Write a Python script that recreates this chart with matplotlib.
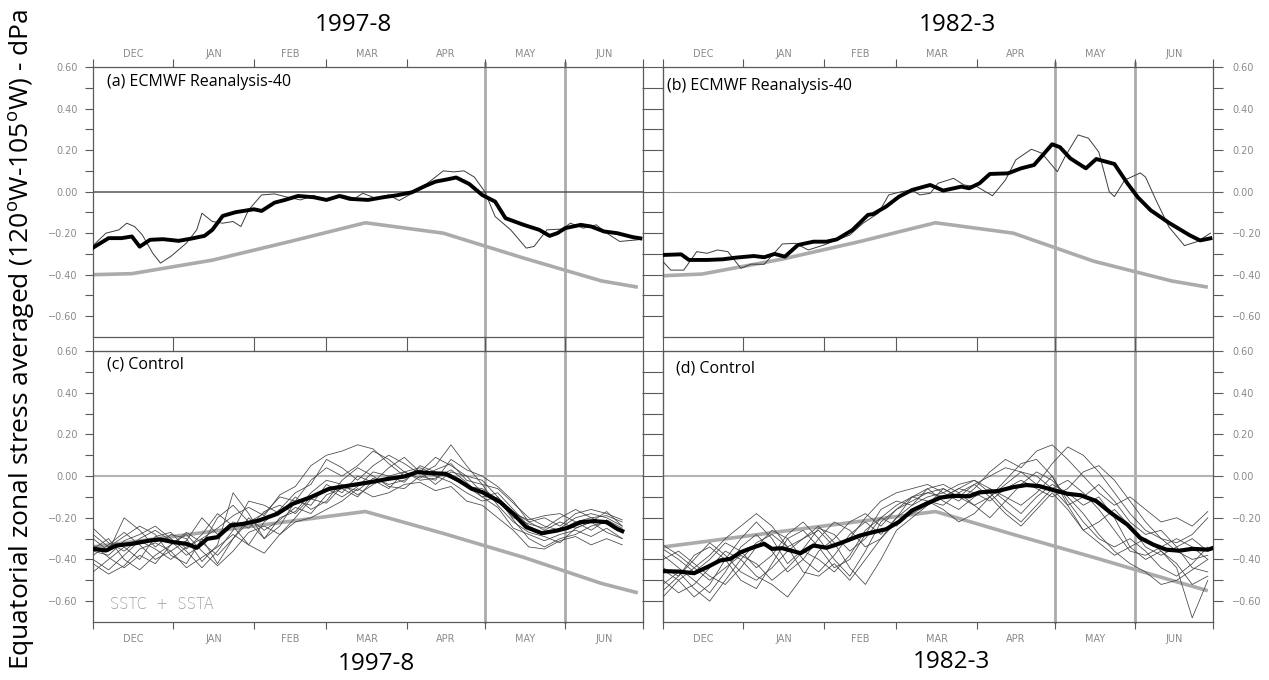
import matplotlib
matplotlib.use("Agg")
import matplotlib.pyplot as plt
import matplotlib.transforms as mtransforms
from matplotlib.lines import Line2D

# ---------------------------------------------------------------- data
# time axis: days counted from 1 December
month_names = ["DEC", "JAN", "FEB", "MAR", "APR", "MAY", "JUN"]
month_edges = [0, 31, 62, 90, 121, 151, 182, 212]
marker_days = [151, 182]          # 1 May and 1 June

y_major = [-0.6, -0.4, -0.2, 0.0, 0.2, 0.4, 0.6]
y_minor = [-0.5, -0.3, -0.1, 0.1, 0.3, 0.5]
y_labels = ["\u22120.60", "\u22120.40", "\u22120.20", "0.00", "0.20", "0.40", "0.60"]

# monthly climatological stress (mid-month nodes)
clim_days = [0, 15, 46, 76, 105, 135, 166, 196, 210]
clim_a = [-0.40, -0.395, -0.33, -0.24, -0.15, -0.20, -0.32, -0.43, -0.46]
clim_b = [-0.405, -0.397, -0.325, -0.24, -0.15, -0.20, -0.335, -0.43, -0.46]
clim_c = [-0.34, -0.316, -0.265, -0.217, -0.17, -0.275, -0.39, -0.515, -0.56]
clim_d = [-0.34, -0.316, -0.265, -0.217, -0.17, -0.28, -0.39, -0.50, -0.55]

# (a) ERA-40 1997-8
era_a_days = [0, 5, 10, 13, 16, 19, 23, 26, 30, 33, 36, 40, 42, 46, 50, 54, 57, 60, 65, 70,
              74, 80, 85, 90, 96, 101, 104, 109, 114, 118, 123, 128, 132, 135, 139, 143, 147,
              151, 155, 161, 167, 170, 175, 181, 184, 189, 194, 198, 203, 210]
era_a = [-0.26, -0.20, -0.184, -0.152, -0.168, -0.208, -0.296, -0.344, -0.312, -0.28,
         -0.248, -0.184, -0.104, -0.144, -0.152, -0.144, -0.168, -0.088, -0.016, -0.011,
         -0.024, -0.04, -0.019, -0.037, -0.016, -0.032, -0.008, -0.032, -0.016, -0.043,
         -0.008, 0.032, 0.07, 0.10, 0.095, 0.10, 0.07, 0.0, -0.12, -0.184,
         -0.272, -0.264, -0.184, -0.18, -0.152, -0.176, -0.16, -0.2, -0.24, -0.232]
era_a_smooth_days = [0, 6, 11, 15, 18, 22, 27, 33, 38, 43, 46, 50, 55, 62, 65, 70, 74, 79, 85,
                     90, 95, 99, 106, 112, 117, 123, 128, 132, 137, 140, 145, 150, 155, 159,
                     166, 172, 176, 179, 182, 188, 192, 197, 202, 208, 211]
era_a_smooth = [-0.27, -0.224, -0.224, -0.216, -0.265, -0.232, -0.229, -0.237, -0.226, -0.213,
                -0.184, -0.117, -0.099, -0.085, -0.093, -0.053, -0.04, -0.021, -0.027, -0.04,
                -0.021, -0.035, -0.04, -0.027, -0.018, -0.003, 0.027, 0.048, 0.060, 0.068,
                0.037, -0.016, -0.048, -0.128, -0.16, -0.184, -0.213, -0.2, -0.176, -0.16,
                -0.168, -0.192, -0.2, -0.219, -0.225]

# (b) ERA-40 1982-3
era_b_days = [0, 3, 8, 13, 17, 21, 25, 30, 34, 39, 46, 51, 56, 62, 67, 72, 77, 83, 87, 92,
              96, 99, 103, 106, 112, 116, 121, 127, 132, 136, 142, 146, 152, 155, 160, 164,
              168, 172, 174, 178, 184, 186, 190, 195, 201, 206, 211]
era_b = [-0.337, -0.378, -0.378, -0.289, -0.297, -0.281, -0.289, -0.369, -0.349, -0.35,
         -0.252, -0.249, -0.281, -0.257, -0.233, -0.209, -0.153, -0.104, -0.016, 0.0,
         0.008, -0.016, -0.008, 0.04, 0.064, 0.032, 0.024, -0.02, 0.056, 0.153,
         0.204, 0.185, 0.096, 0.169, 0.273, 0.257, 0.19, 0.0, -0.024, 0.056,
         0.09, 0.07, -0.04, -0.17, -0.26, -0.24, -0.20]
era_b_smooth_days = [0, 7, 10, 17, 23, 28, 35, 39, 43, 47, 52, 58, 63, 67, 73, 79, 81, 86, 91,
                     96, 103, 108, 115, 118, 122, 126, 133, 138, 143, 147, 150, 153, 157, 163,
                     167, 174, 179, 183, 188, 195, 203, 207, 211]
era_b_smooth = [-0.305, -0.302, -0.329, -0.329, -0.326, -0.318, -0.31, -0.316, -0.30, -0.313,
                -0.257, -0.241, -0.241, -0.23, -0.185, -0.112, -0.108, -0.072, -0.024, 0.008,
                0.032, 0.005, 0.024, 0.016, 0.04, 0.085, 0.088, 0.112, 0.128, 0.185,
                0.228, 0.214, 0.16, 0.112, 0.157, 0.133, 0.04, -0.027, -0.09, -0.15,
                -0.21, -0.235, -0.225]

# (c) control ensemble 1997-8 (members sampled every 6 days)
members_c_days = list(range(0, 205, 6))
members_c = [
    [-0.25, -0.32, -0.36, -0.30, -0.26, -0.31, -0.38, -0.33, -0.20, -0.14, -0.22, -0.18, -0.10, -0.12, -0.02, 0.04, 0.00, 0.05, 0.12, 0.08, 0.02, 0.04, 0.01, 0.00, -0.05, -0.10, -0.08, -0.16, -0.24, -0.28, -0.25, -0.20, -0.18, -0.20, -0.24],
    [-0.40, -0.45, -0.38, -0.31, -0.35, -0.40, -0.34, -0.30, -0.42, -0.30, -0.20, -0.26, -0.21, -0.15, -0.18, -0.09, -0.06, -0.10, -0.02, -0.06, 0.02, -0.01, 0.03, 0.06, -0.02, -0.04, -0.14, -0.22, -0.27, -0.29, -0.32, -0.25, -0.22, -0.27, -0.30],
    [-0.30, -0.36, -0.20, -0.26, -0.34, -0.28, -0.30, -0.41, -0.33, -0.08, -0.18, -0.30, -0.24, -0.12, -0.14, -0.04, -0.08, 0.00, -0.03, 0.04, 0.09, 0.02, -0.04, 0.02, 0.00, -0.08, -0.12, -0.20, -0.23, -0.25, -0.20, -0.16, -0.20, -0.23, -0.27],
    [-0.46, -0.40, -0.34, -0.40, -0.29, -0.27, -0.35, -0.28, -0.18, -0.24, -0.33, -0.22, -0.16, -0.08, -0.04, 0.08, 0.04, -0.02, 0.05, 0.10, 0.06, 0.01, 0.05, 0.15, 0.05, -0.04, -0.06, -0.13, -0.20, -0.24, -0.26, -0.22, -0.26, -0.21, -0.25],
    [-0.35, -0.30, -0.40, -0.45, -0.38, -0.33, -0.28, -0.36, -0.43, -0.36, -0.27, -0.24, -0.28, -0.20, -0.11, -0.13, -0.05, -0.07, -0.01, -0.04, -0.02, 0.03, 0.00, -0.03, -0.08, -0.12, -0.10, -0.21, -0.30, -0.34, -0.30, -0.28, -0.24, -0.22, -0.26],
    [-0.28, -0.34, -0.29, -0.24, -0.28, -0.38, -0.42, -0.30, -0.25, -0.19, -0.15, -0.19, -0.09, -0.05, 0.05, 0.10, 0.12, 0.15, 0.13, 0.06, 0.00, 0.02, 0.09, 0.05, 0.00, -0.02, -0.10, -0.18, -0.21, -0.19, -0.18, -0.22, -0.20, -0.19, -0.22],
    [-0.42, -0.47, -0.43, -0.35, -0.32, -0.36, -0.44, -0.39, -0.34, -0.28, -0.33, -0.37, -0.28, -0.22, -0.20, -0.16, -0.12, -0.06, -0.10, -0.08, -0.04, -0.03, -0.07, -0.05, -0.12, -0.14, -0.20, -0.26, -0.34, -0.35, -0.31, -0.29, -0.33, -0.30, -0.33],
    [-0.38, -0.33, -0.27, -0.33, -0.40, -0.36, -0.31, -0.20, -0.28, -0.22, -0.25, -0.17, -0.14, -0.18, -0.10, -0.06, -0.10, -0.05, 0.02, 0.00, -0.03, 0.05, 0.02, -0.01, -0.05, -0.06, -0.11, -0.17, -0.22, -0.20, -0.24, -0.18, -0.16, -0.18, -0.21],
    [-0.33, -0.39, -0.44, -0.38, -0.42, -0.33, -0.27, -0.32, -0.38, -0.30, -0.22, -0.30, -0.20, -0.17, -0.08, -0.02, -0.04, -0.09, -0.04, 0.00, 0.02, -0.02, -0.01, 0.03, -0.03, -0.10, -0.15, -0.25, -0.28, -0.31, -0.28, -0.26, -0.29, -0.25, -0.30],
    [-0.36, -0.38, -0.31, -0.28, -0.24, -0.30, -0.36, -0.44, -0.36, -0.26, -0.12, -0.14, -0.18, -0.10, -0.16, -0.12, -0.02, 0.04, 0.00, -0.05, -0.06, 0.00, -0.02, 0.08, 0.03, 0.00, -0.05, -0.12, -0.22, -0.26, -0.22, -0.25, -0.22, -0.17, -0.24],
]
mean_c_days = [0, 5, 9, 15, 22, 26, 31, 36, 40, 44, 48, 53, 58, 64, 71, 77, 84, 91, 99, 107,
               114, 120, 125, 130, 136, 141, 146, 150, 157, 162, 167, 173, 179, 183, 188,
               193, 198, 202, 204]
mean_c = [-0.349, -0.357, -0.333, -0.325, -0.309, -0.304, -0.317, -0.325, -0.344, -0.301,
          -0.293, -0.237, -0.229, -0.213, -0.181, -0.133, -0.101, -0.061, -0.045, -0.029,
          -0.013, -0.002, 0.019, 0.014, 0.011, -0.021, -0.061, -0.077, -0.125, -0.181,
          -0.245, -0.274, -0.261, -0.248, -0.221, -0.216, -0.221, -0.253, -0.264]

# (d) control ensemble 1982-3
members_d_days = list(range(0, 211, 6))
members_d = [
    [-0.45, -0.50, -0.58, -0.52, -0.40, -0.30, -0.22, -0.30, -0.42, -0.35, -0.25, -0.28, -0.36, -0.30, -0.20, -0.14, -0.10, -0.08, -0.06, -0.10, -0.04, 0.00, 0.04, 0.02, -0.04, 0.06, 0.14, 0.10, 0.02, -0.08, -0.18, -0.26, -0.30, -0.36, -0.40, -0.38],
    [-0.35, -0.40, -0.46, -0.40, -0.32, -0.36, -0.44, -0.38, -0.28, -0.22, -0.30, -0.40, -0.48, -0.36, -0.22, -0.16, -0.12, -0.08, -0.10, -0.06, -0.08, -0.12, -0.06, -0.02, -0.06, -0.10, -0.06, 0.02, 0.05, -0.02, -0.12, -0.22, -0.30, -0.32, -0.28, -0.20],
    [-0.55, -0.48, -0.38, -0.34, -0.40, -0.50, -0.54, -0.42, -0.30, -0.26, -0.34, -0.44, -0.40, -0.28, -0.16, -0.12, -0.14, -0.06, -0.04, -0.08, -0.14, -0.20, -0.12, -0.04, 0.02, -0.02, -0.10, -0.18, -0.28, -0.36, -0.42, -0.46, -0.52, -0.50, -0.45, -0.40],
    [-0.40, -0.36, -0.42, -0.48, -0.52, -0.44, -0.34, -0.26, -0.30, -0.40, -0.46, -0.38, -0.28, -0.22, -0.28, -0.20, -0.10, -0.12, -0.16, -0.22, -0.18, -0.10, -0.02, 0.06, 0.08, 0.00, -0.14, -0.26, -0.22, -0.16, -0.24, -0.34, -0.38, -0.34, -0.30, -0.36],
    [-0.50, -0.56, -0.52, -0.44, -0.36, -0.40, -0.48, -0.52, -0.58, -0.48, -0.36, -0.30, -0.22, -0.18, -0.24, -0.16, -0.10, -0.06, -0.12, -0.16, -0.10, -0.06, -0.12, -0.18, -0.10, -0.04, -0.08, -0.14, -0.10, -0.20, -0.34, -0.40, -0.36, -0.42, -0.52, -0.48],
    [-0.38, -0.44, -0.50, -0.56, -0.46, -0.34, -0.28, -0.36, -0.46, -0.40, -0.30, -0.22, -0.26, -0.34, -0.30, -0.20, -0.14, -0.10, -0.08, -0.04, -0.02, -0.06, -0.10, -0.14, -0.08, 0.00, -0.12, -0.22, -0.30, -0.34, -0.30, -0.36, -0.44, -0.48, -0.42, -0.34],
    [-0.58, -0.50, -0.44, -0.38, -0.30, -0.24, -0.18, -0.24, -0.34, -0.46, -0.48, -0.42, -0.50, -0.40, -0.30, -0.22, -0.18, -0.14, -0.10, -0.06, -0.02, -0.08, -0.16, -0.22, -0.14, -0.06, -0.02, -0.08, -0.16, -0.26, -0.36, -0.38, -0.34, -0.30, -0.34, -0.40],
    [-0.44, -0.48, -0.40, -0.32, -0.38, -0.46, -0.50, -0.44, -0.36, -0.30, -0.24, -0.32, -0.44, -0.52, -0.40, -0.26, -0.20, -0.14, -0.06, -0.10, -0.14, -0.10, -0.04, 0.02, 0.00, -0.06, -0.14, -0.10, -0.04, -0.12, -0.22, -0.28, -0.26, -0.34, -0.44, -0.46],
    [-0.33, -0.38, -0.44, -0.50, -0.44, -0.38, -0.42, -0.50, -0.44, -0.36, -0.40, -0.46, -0.38, -0.26, -0.20, -0.24, -0.16, -0.12, -0.14, -0.08, -0.04, -0.10, -0.18, -0.24, -0.16, -0.08, -0.16, -0.26, -0.32, -0.38, -0.34, -0.30, -0.36, -0.44, -0.68, -0.50],
    [-0.52, -0.46, -0.54, -0.60, -0.50, -0.40, -0.32, -0.28, -0.34, -0.30, -0.26, -0.34, -0.30, -0.20, -0.12, -0.08, -0.06, -0.04, -0.08, -0.12, -0.06, 0.02, 0.08, 0.04, 0.12, 0.15, 0.08, 0.00, -0.08, -0.14, -0.10, -0.16, -0.22, -0.20, -0.24, -0.17],
]
mean_d_days = [0, 6, 12, 17, 22, 26, 30, 35, 39, 42, 46, 53, 58, 63, 67, 71, 76, 81, 86, 91,
               96, 102, 107, 112, 118, 122, 129, 135, 140, 145, 151, 156, 161, 167, 173,
               179, 184, 189, 194, 199, 204, 210, 212]
mean_d = [-0.456, -0.458, -0.466, -0.437, -0.405, -0.397, -0.365, -0.341, -0.325, -0.349,
          -0.346, -0.37, -0.333, -0.344, -0.328, -0.309, -0.285, -0.269, -0.255, -0.219,
          -0.165, -0.13, -0.103, -0.095, -0.097, -0.078, -0.072, -0.053, -0.043, -0.048,
          -0.069, -0.085, -0.092, -0.12, -0.18, -0.233, -0.297, -0.329, -0.353, -0.358,
          -0.349, -0.353, -0.345]

# ---------------------------------------------------------------- style
plt.rcParams["mathtext.fontset"] = "custom"
plt.rcParams["mathtext.rm"] = "Open Sans"
TICK_FONT = dict(fontsize=7, color="#8a8a8a", family="DejaVu Sans")
SPINE = "#5a5a5a"
CLIM = "#ababab"

W, H = 1269, 680
fig = plt.figure(figsize=(W / 100, H / 100), dpi=100)
fig.patch.set_facecolor("white")


def box(x0, y0, x1, y1):
    return [x0 / W, 1 - y1 / H, (x1 - x0) / W, (y1 - y0) / H]


ax_a = fig.add_axes(box(93, 67, 643, 337))
ax_b = fig.add_axes(box(663, 67, 1213, 337))
ax_c = fig.add_axes(box(93, 351, 643, 622))
ax_d = fig.add_axes(box(663, 351, 1213, 622))

month_mid = [(month_edges[i] + month_edges[i + 1]) / 2 for i in range(len(month_names))]


def setup(ax, top_row, left_col):
    ax.set_facecolor("none")
    ax.set_xlim(month_edges[0], month_edges[-1])
    ax.set_ylim(-0.70, 0.60)
    for s in ax.spines.values():
        s.set_color(SPINE)
        s.set_linewidth(0.9)

    # months: ticks on edges, labels at mid-month
    ax.set_xticks(month_edges)
    ax.set_xticklabels([])
    ax.set_xticks(month_mid, minor=True)
    ax.set_xticklabels(month_names, minor=True, **TICK_FONT)
    if top_row:
        ax.tick_params(axis="x", which="both", top=True, bottom=False,
                       labeltop=True, labelbottom=False)
        ax.tick_params(axis="x", which="major", direction="out", length=6,
                       width=0.8, color=SPINE)
        ax.tick_params(axis="x", which="minor", length=0, pad=6)
    else:
        ax.tick_params(axis="x", which="major", direction="out", length=5,
                       width=0.8, color=SPINE)
        ax.tick_params(axis="x", which="minor", length=0, pad=9)
        sec = ax.secondary_xaxis("top")
        sec.set_xticks(month_edges)
        sec.set_xticklabels([])
        sec.tick_params(direction="out", length=10, width=0.8, color=SPINE)
        sec.spines["top"].set_color(SPINE)

    ax.set_yticks(y_major)
    ax.set_yticks(y_minor, minor=True)
    if left_col:
        ax.set_yticklabels(y_labels, **TICK_FONT)
        ax.tick_params(axis="y", which="both", direction="out", length=6,
                       width=0.8, color=SPINE, pad=5, left=True, right=False)
    else:
        ax.yaxis.tick_right()
        ax.set_yticklabels(y_labels, **TICK_FONT)
        ax.tick_params(axis="y", which="both", direction="out", length=7,
                       width=0.8, color=SPINE, pad=7, left=False, right=True)
        sec = ax.secondary_yaxis("left")
        sec.set_yticks(y_major + y_minor)
        sec.set_yticklabels([])
        sec.tick_params(direction="out", length=15, width=0.8, color=SPINE)
        sec.spines["left"].set_color(SPINE)


setup(ax_a, True, True)
setup(ax_b, True, False)
setup(ax_c, False, True)
setup(ax_d, False, False)

# zero lines
ax_a.axhline(0, color="#555555", lw=1.1, zorder=1)
ax_b.axhline(0, color="#8c8c8c", lw=0.8, zorder=1)
ax_c.axhline(0, color="#b4b4b4", lw=1.5, zorder=1)
ax_d.axhline(0, color="#b4b4b4", lw=1.5, zorder=1)

# climatology
for ax, clim in ((ax_a, clim_a), (ax_b, clim_b), (ax_c, clim_c), (ax_d, clim_d)):
    ax.plot(clim_days, clim, color=CLIM, lw=2.6, zorder=2, solid_capstyle="butt")

# reanalysis
ax_a.plot(era_a_days, era_a, color="#3c3c3c", lw=0.7, zorder=3)
ax_a.plot(era_a_smooth_days, era_a_smooth, color="black", lw=2.8, zorder=4)
ax_b.plot(era_b_days, era_b, color="#3c3c3c", lw=0.7, zorder=3)
ax_b.plot(era_b_smooth_days, era_b_smooth, color="black", lw=2.8, zorder=4)

# ensembles
for m in members_c:
    ax_c.plot(members_c_days[:len(m)], m, color="#444444", lw=0.55, zorder=3)
ax_c.plot(mean_c_days, mean_c, color="black", lw=3.0, zorder=4)
for m in members_d:
    ax_d.plot(members_d_days[:len(m)], m, color="#444444", lw=0.55, zorder=3)
ax_d.plot(mean_d_days, mean_d, color="black", lw=3.0, zorder=4)

# 1 May / 1 June markers spanning both rows
y_lo, y_hi = 1 - 622 / H, 1 - 63 / H
for ax in (ax_a, ax_b):
    trans = mtransforms.blended_transform_factory(ax.transData, fig.transFigure)
    for d in marker_days:
        fig.add_artist(Line2D([d, d], [y_lo, y_hi], transform=trans,
                              color="#ababab", lw=2.0, zorder=-1))

# panel labels
lab = dict(fontsize=11.5, family="Open Sans", color="black", va="center", ha="left")
ax_a.text(0.025, 0.944, "(a) ECMWF Reanalysis-40", transform=ax_a.transAxes, **lab)
ax_b.text(0.008, 0.93, "(b) ECMWF Reanalysis-40", transform=ax_b.transAxes, **lab)
ax_c.text(0.025, 0.952, "(c) Control", transform=ax_c.transAxes, **lab)
ax_d.text(0.024, 0.937, "(d) Control", transform=ax_d.transAxes, **lab)
ax_c.text(0.031, 0.063, "SSTC  +  SSTA", transform=ax_c.transAxes, fontsize=10.5,
          color="#9a9a9a", family="DejaVu Sans", fontweight="light", va="center")

# period titles
ttl = dict(fontsize=17.5, family="Open Sans", color="black", ha="center", va="center")
fig.text(353 / W, 1 - 25 / H, "1997-8", **ttl)
fig.text(957 / W, 1 - 25 / H, "1982-3", **ttl)
fig.text(376 / W, 1 - 664 / H, "1997-8", **ttl)
fig.text(951 / W, 1 - 662 / H, "1982-3", **ttl)

fig.text(22 / W, 0.5, "Equatorial zonal stress averaged (120$^{\\mathrm{o}}$W-105$^{\\mathrm{o}}$W) - dPa",
         rotation=90, fontsize=19, family="Open Sans", ha="center", va="center")

fig.savefig("out.png", dpi=100, facecolor="white")
